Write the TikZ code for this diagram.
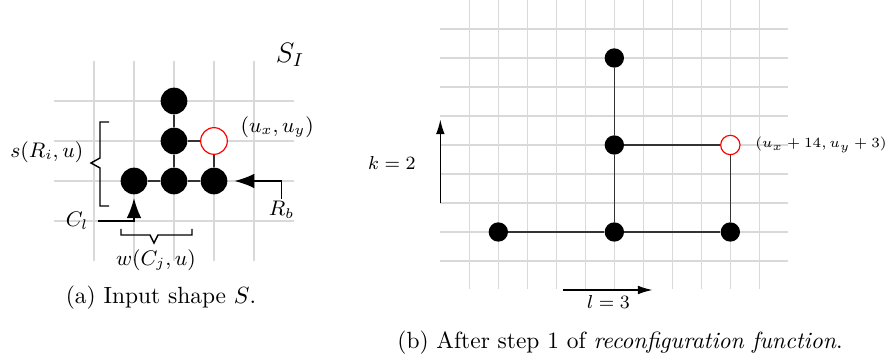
\documentclass[tikz,border=0pt]{standalone}
\usepackage{amsmath,amssymb}
\usepackage{tikz}
\usetikzlibrary{arrows.meta,calc,decorations.pathreplacing,positioning}
\tikzset{
  gridline/.style={black!15, line width=0.7pt},
  link/.style={black!80, line width=0.6pt},
  cell/.style={circle, fill=black, minimum size=4mm, inner sep=0pt},
  hole/.style={circle, draw=red, fill=white, line width=0.5pt,
               minimum size=4mm, inner sep=0pt},
  smallcell/.style={cell, minimum size=2.9mm},
  smallhole/.style={hole, minimum size=2.9mm},
  flow/.style={-{Latex[length=3mm,width=2.2mm]}, line width=0.7pt},
  smallflow/.style={-{Latex[length=2.2mm,width=1.3mm]}, line width=0.6pt},
  bracket/.style={line width=0.6pt},
  lab/.style={font=\small, inner sep=1pt},
  note/.style={font=\footnotesize},
  caption/.style={font=\normalsize},
}

\begin{document}
\begin{tikzpicture}[x=1cm,y=1cm]
  \path[use as bounding box] (0,0) rectangle (13.305,5.43);

  % (a) input shape
  \begin{scope}[shift={(2.01,2.715)}, x=0.6cm, y=0.6cm]
    \foreach \i in {-1,...,3} \draw[gridline] (\i,-2) -- (\i,3);
    \foreach \j in {-1,...,2} \draw[gridline] (-2,\j) -- (4,\j);

    \node[cell] (c00) at (0,0) {};
    \node[cell] (c10) at (1,0) {};
    \node[cell] (c20) at (2,0) {};
    \node[cell] (c11) at (1,1) {};
    \node[hole] (u) at (2,1) {};
    \node[cell] (c12) at (1,2) {};
    \draw[link] (c00) -- (c10) -- (c20);
    \draw[link] (c12) -- (c11) -- (c10);
    \draw[link] (c11) -- (u) -- (c20);

    \node[font=\large] (SI) at (3.9,3.15) {$S_I$};
    \node[lab] (uxy) at (3.58,1.35) {$(u_x,u_y)$};
    \node[lab] (sRi) at (-2.18,0.73) {$s(R_i,u)$};
    \node[lab] (wCj) at (0.55,-1.975) {$w(C_j,u)$};
    \node[lab] (Cl) at (-1.425,-1) {$C_l$};
    \node[lab] (Rb) at (3.69,-0.725) {$R_b$};

    \draw[flow, shorten <=1mm, shorten >=0.5mm] (Cl.east) -| (c00.south);
    \draw[flow, shorten >=1mm] (Rb.north) |- (c20.east);

    % braces
    \draw[bracket] (-0.625,1.475) -- (-0.85,1.475) -- (-0.85,0.575)
      -- (-1.075,0.45) -- (-0.85,0.325) -- (-0.85,-0.625) -- (-0.625,-0.625);
    \draw[bracket] (-0.325,-1.2) -- (-0.325,-1.35) -- (0.4,-1.35)
      -- (0.5,-1.55) -- (0.6,-1.35) -- (1.45,-1.35) -- (1.45,-1.2);
  \end{scope}

  % (b) after step 1
  \begin{scope}[shift={(7.04,1.515)}, x=0.435cm, y=0.435cm]
    \foreach \i in {0,...,10} \draw[gridline] (\i,-0.95) -- (\i,9.1);
    \foreach \j in {0,...,8} \draw[gridline] (-1,\j) -- (11,\j);

    \node[smallcell] (p11) at (1,1) {};
    \node[smallcell] (p51) at (5,1) {};
    \node[smallcell] (p91) at (9,1) {};
    \node[smallcell] (p54) at (5,4) {};
    \node[smallhole] (v) at (9,4) {};
    \node[smallcell] (p57) at (5,7) {};
    \draw[link] (p11) -- (p51) -- (p91);
    \draw[link] (p57) -- (p54) -- (p51);
    \draw[link] (p54) -- (v) -- (p91);

    \node[note, font=\fontsize{6.3}{8}\selectfont, inner sep=0pt, anchor=west]
      (vlab) at (9.85,4) {$(u_x+14,u_y+3)$};
    \node[note] (k) at (-2.67,3.39) {$k=2$};
    \node[note] (l) at (4.8,-1.42) {$l=3$};

    \coordinate (kfrom) at (-1,2);
    \coordinate (kto) at (-1,4.88);
    \coordinate (lfrom) at (3.24,-1);
    \coordinate (lto) at (6.32,-1);
    \draw[smallflow] (kfrom) -- (kto);
    \draw[smallflow] (lfrom) -- (lto);
  \end{scope}

  \node[caption] (capa) at (2.415,0.96) {(a) Input shape $S$.};
  \node[caption] (capb) at (9.3,0.285)
    {(b) After step 1 of \textit{reconfiguration function}.};
\end{tikzpicture}
\end{document}
